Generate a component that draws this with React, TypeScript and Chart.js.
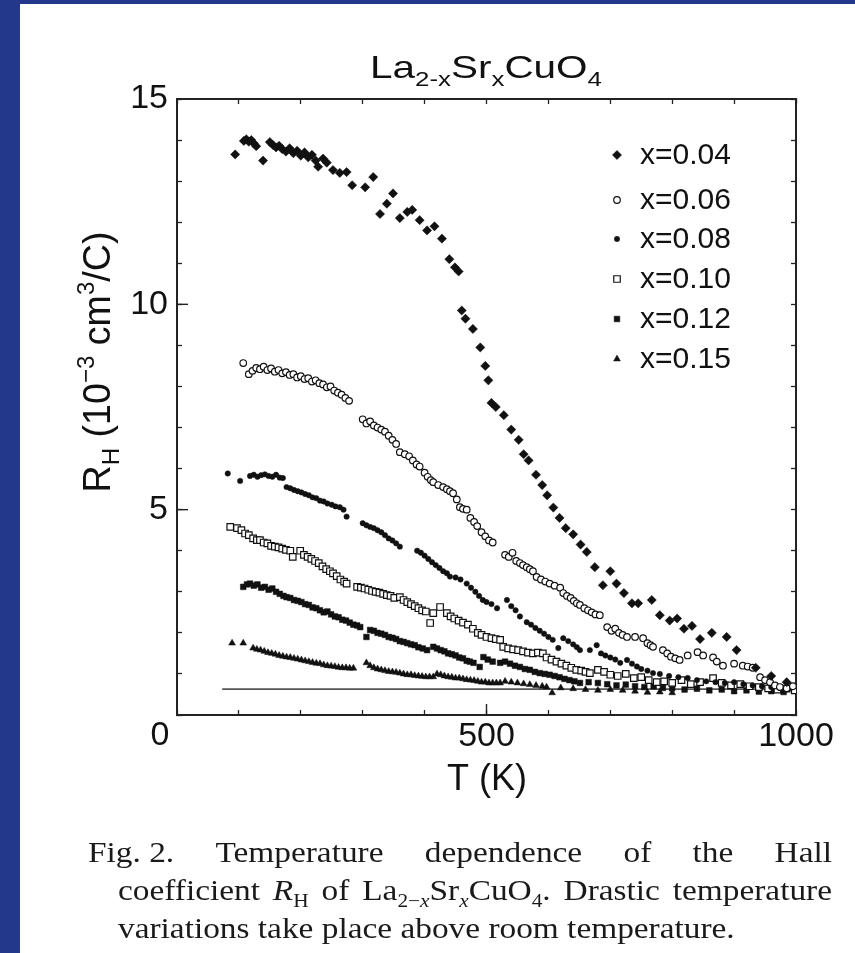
import React, { useEffect, useRef } from 'react';
import { Chart, registerables } from 'chart.js';
Chart.register(...registerables);

type Pt = [number, number];

// ---------------- data ----------------
const seriesLabels = ['x=0.04', 'x=0.06', 'x=0.08', 'x=0.10', 'x=0.12', 'x=0.15'];

const x004: Pt[] = [
  [94, 13.65], [108, 13.98], [112, 14.02], [116, 13.96], [120, 14.0], [124, 13.92], [128, 13.85], [139, 13.5],
  [150, 13.95], [155, 13.88], [160, 13.82], [165, 13.86], [170, 13.78], [176, 13.72], [182, 13.8], [188, 13.68],
  [194, 13.74], [200, 13.62], [206, 13.7], [212, 13.58], [218, 13.64], [224, 13.5], [228, 13.35], [236, 13.55],
  [242, 13.45], [252, 13.27], [263, 13.2], [274, 13.22], [283, 12.9], [304, 12.85], [317, 13.1], [328, 12.2],
  [339, 12.45], [349, 12.7], [360, 12.1], [372, 12.25], [380, 12.3], [392, 12.05], [404, 11.8], [416, 11.9],
  [428, 11.6], [440, 11.1], [449, 10.9], [455, 10.8], [460, 9.85], [466, 9.65], [478, 9.4], [490, 8.95],
  [498, 8.5], [503, 8.15], [508, 7.6], [515, 7.5], [528, 7.3], [540, 6.95], [552, 6.7], [560, 6.35],
  [568, 6.2], [580, 5.85], [590, 5.6], [598, 5.35], [608, 5.05], [618, 4.8], [628, 4.55], [640, 4.4],
  [652, 4.15], [662, 3.97], [675, 3.6], [688, 3.16], [700, 3.5], [710, 3.2], [722, 2.97], [735, 2.72],
  [745, 2.72], [767, 2.8], [780, 2.43], [796, 2.3], [808, 2.35], [819, 2.1], [832, 2.17], [845, 1.85],
  [864, 2.0], [888, 1.9], [904, 1.58], [935, 1.15], [960, 0.95], [985, 0.8],
];

const x006: Pt[] = [
  [107, 8.57], [116, 8.3], [122, 8.38], [128, 8.45], [134, 8.42], [140, 8.48], [146, 8.4], [152, 8.44],
  [158, 8.36], [164, 8.4], [170, 8.32], [176, 8.35], [182, 8.28], [188, 8.3], [194, 8.22], [200, 8.25],
  [206, 8.18], [212, 8.2], [218, 8.12], [224, 8.15], [230, 8.08], [236, 8.05], [242, 7.98], [248, 8.0],
  [254, 7.9], [260, 7.85], [266, 7.8], [272, 7.72], [278, 7.65], [300, 7.2], [306, 7.1], [312, 7.15],
  [318, 7.05], [324, 7.0], [330, 6.95], [336, 6.9], [342, 6.8], [348, 6.7], [354, 6.6], [360, 6.4],
  [368, 6.35], [375, 6.3], [381, 6.2], [387, 6.1], [392, 6.05], [400, 5.9], [405, 5.8], [410, 5.72],
  [414, 5.67], [422, 5.6], [430, 5.55], [436, 5.5], [441, 5.45], [446, 5.4], [452, 5.25], [457, 5.06],
  [462, 5.02], [468, 5.0], [474, 4.8], [480, 4.7], [485, 4.6], [492, 4.45], [498, 4.35], [504, 4.25],
  [510, 4.2], [530, 3.9], [536, 3.85], [542, 3.95], [548, 3.75], [554, 3.7], [559, 3.65], [565, 3.6],
  [570, 3.55], [575, 3.5], [581, 3.36], [588, 3.3], [595, 3.25], [602, 3.2], [610, 3.15], [619, 3.1],
  [624, 2.97], [630, 2.9], [636, 2.85], [641, 2.78], [646, 2.72], [651, 2.68], [658, 2.6], [664, 2.55],
  [670, 2.5], [676, 2.45], [683, 2.43], [695, 2.14], [702, 2.05], [708, 2.1], [714, 2.0], [720, 1.95],
  [727, 1.9], [740, 1.9], [753, 1.87], [760, 1.75], [765, 1.7], [769, 1.66], [785, 1.58], [792, 1.5],
  [798, 1.42], [805, 1.38], [812, 1.34], [825, 1.45], [841, 1.53], [850, 1.45], [866, 1.4], [872, 1.3],
  [882, 1.2], [900, 1.25], [914, 1.2], [922, 1.18], [930, 1.15], [942, 0.92], [950, 0.85], [958, 0.8],
  [966, 0.72], [974, 0.68], [985, 0.65], [995, 0.7],
];

const x008: Pt[] = [
  [82, 5.88], [102, 5.7], [118, 5.82], [124, 5.85], [130, 5.8], [136, 5.84], [142, 5.86], [148, 5.82],
  [154, 5.8], [160, 5.85], [166, 5.78], [171, 5.77], [177, 5.55], [183, 5.52], [189, 5.48], [195, 5.45],
  [201, 5.42], [207, 5.38], [213, 5.35], [219, 5.3], [225, 5.28], [231, 5.22], [237, 5.2], [243, 5.15],
  [250, 5.12], [256, 5.08], [263, 5.06], [269, 5.0], [274, 4.83], [300, 4.67], [306, 4.62], [312, 4.58],
  [318, 4.55], [324, 4.5], [330, 4.45], [336, 4.38], [342, 4.3], [348, 4.25], [354, 4.18], [360, 4.1],
  [388, 4.0], [394, 3.95], [400, 3.88], [406, 3.8], [412, 3.72], [418, 3.65], [424, 3.58], [430, 3.5],
  [436, 3.45], [441, 3.37], [450, 3.35], [458, 3.3], [468, 3.2], [475, 3.1], [482, 3.0], [488, 2.9],
  [494, 2.8], [500, 2.75], [508, 2.7], [517, 2.6], [533, 2.8], [540, 2.65], [547, 2.55], [554, 2.4],
  [565, 2.26], [572, 2.2], [579, 2.12], [586, 2.05], [593, 1.98], [600, 1.9], [607, 1.83], [616, 1.63],
  [624, 1.87], [632, 1.8], [640, 1.72], [646, 1.65], [651, 1.58], [667, 1.58], [678, 1.7], [685, 1.5],
  [692, 1.45], [700, 1.4], [708, 1.35], [716, 1.27], [727, 1.34], [735, 1.25], [743, 1.18], [750, 1.12],
  [760, 1.08], [769, 1.02], [780, 1.0], [795, 0.95], [810, 0.92], [825, 0.9], [840, 0.85], [855, 0.82],
  [870, 0.8], [885, 0.78], [900, 0.8], [915, 0.75], [930, 0.72], [945, 0.7], [960, 0.68], [975, 0.65],
  [990, 0.66],
];

const x010: Pt[] = [
  [86, 4.58], [97, 4.55], [104, 4.5], [110, 4.42], [116, 4.38], [123, 4.3], [129, 4.26], [134, 4.26],
  [140, 4.2], [146, 4.18], [152, 4.12], [158, 4.1], [164, 4.08], [170, 4.05], [176, 4.02], [183, 4.0],
  [187, 3.85], [199, 4.0], [205, 3.9], [211, 3.85], [217, 3.8], [223, 3.75], [229, 3.7], [235, 3.62],
  [241, 3.55], [247, 3.5], [252, 3.45], [258, 3.38], [264, 3.3], [270, 3.25], [274, 3.2], [291, 3.12],
  [297, 3.1], [303, 3.08], [309, 3.05], [315, 3.02], [321, 3.0], [327, 2.98], [333, 2.95], [339, 2.92],
  [345, 2.9], [351, 2.85], [360, 2.87], [366, 2.8], [372, 2.75], [378, 2.7], [384, 2.65], [390, 2.6],
  [396, 2.55], [402, 2.52], [409, 2.24], [414, 2.48], [425, 2.63], [436, 2.48], [442, 2.4], [448, 2.35],
  [455, 2.3], [462, 2.25], [470, 2.2], [478, 2.1], [486, 2.0], [492, 1.95], [500, 1.9], [508, 1.87],
  [515, 1.85], [522, 1.83], [527, 1.66], [535, 1.62], [543, 1.6], [551, 1.58], [559, 1.55], [567, 1.52],
  [575, 1.5], [583, 1.52], [591, 1.5], [597, 1.4], [605, 1.35], [613, 1.3], [621, 1.25], [629, 1.2],
  [637, 1.15], [645, 1.1], [653, 1.08], [660, 1.05], [667, 1.02], [680, 1.1], [690, 1.05], [700, 0.98],
  [712, 0.95], [725, 1.0], [738, 0.9], [750, 0.92], [762, 0.85], [775, 0.8], [787, 0.82], [800, 0.78],
  [815, 0.85], [830, 0.75], [845, 0.8], [866, 0.9], [880, 0.78], [895, 0.72], [910, 0.75], [925, 0.7],
  [940, 0.68], [955, 0.65], [970, 0.62], [985, 0.64], [998, 0.6],
];

const x012: Pt[] = [
  [107, 3.12], [113, 3.18], [118, 3.2], [124, 3.15], [130, 3.18], [136, 3.1], [142, 3.12], [148, 3.05],
  [154, 3.08], [160, 3.0], [166, 2.95], [172, 2.9], [177, 2.87], [183, 2.85], [189, 2.8], [195, 2.78],
  [201, 2.75], [207, 2.7], [213, 2.68], [219, 2.62], [225, 2.6], [231, 2.55], [237, 2.5], [243, 2.52],
  [249, 2.45], [255, 2.4], [261, 2.38], [267, 2.32], [273, 2.3], [279, 2.25], [285, 2.2], [291, 2.18],
  [296, 2.14], [306, 1.9], [312, 2.07], [318, 2.05], [324, 2.0], [330, 1.98], [336, 1.95], [342, 1.9],
  [348, 1.88], [354, 1.85], [360, 1.8], [366, 1.78], [372, 1.75], [378, 1.72], [384, 1.7], [390, 1.65],
  [397, 1.62], [404, 1.58], [414, 1.66], [420, 1.62], [426, 1.58], [432, 1.55], [438, 1.5], [444, 1.48],
  [450, 1.45], [456, 1.4], [462, 1.38], [468, 1.32], [473, 1.3], [479, 1.27], [489, 1.17], [495, 1.41],
  [502, 1.35], [510, 1.3], [522, 1.27], [530, 1.3], [538, 1.25], [546, 1.2], [554, 1.17], [562, 1.12],
  [570, 1.1], [578, 1.05], [586, 1.02], [594, 1.0], [602, 0.98], [610, 0.95], [618, 0.92], [626, 0.88],
  [634, 0.85], [642, 0.82], [651, 0.78], [665, 0.8], [680, 0.78], [695, 0.75], [710, 0.72], [725, 0.74],
  [740, 0.7], [755, 0.68], [770, 0.7], [785, 0.66], [800, 0.65], [820, 0.62], [840, 0.64], [860, 0.6],
  [880, 0.62], [900, 0.58], [920, 0.6], [940, 0.57], [960, 0.58], [980, 0.56],
];

const x015: Pt[] = [
  [89, 1.75], [107, 1.75], [123, 1.63], [129, 1.6], [135, 1.58], [141, 1.55], [147, 1.52], [153, 1.5],
  [159, 1.48], [165, 1.45], [171, 1.43], [177, 1.41], [183, 1.4], [189, 1.38], [195, 1.36], [201, 1.34],
  [207, 1.32], [213, 1.3], [219, 1.28], [225, 1.26], [231, 1.25], [237, 1.22], [243, 1.2], [249, 1.19],
  [255, 1.18], [261, 1.16], [267, 1.15], [273, 1.15], [279, 1.14], [285, 1.14], [306, 1.27], [312, 1.2],
  [318, 1.15], [324, 1.12], [330, 1.1], [336, 1.08], [342, 1.06], [348, 1.05], [354, 1.04], [360, 1.02],
  [366, 1.0], [372, 0.98], [378, 0.98], [384, 0.96], [390, 0.95], [396, 0.94], [402, 0.93], [408, 0.93],
  [414, 0.93], [420, 1.0], [426, 0.98], [432, 0.95], [438, 0.93], [444, 0.92], [450, 0.9], [456, 0.9],
  [462, 0.88], [468, 0.86], [474, 0.85], [480, 0.84], [486, 0.82], [492, 0.8], [498, 0.8], [504, 0.78],
  [510, 0.78], [516, 0.78], [522, 0.78], [530, 0.82], [540, 0.8], [550, 0.78], [560, 0.76], [570, 0.74],
  [580, 0.72], [590, 0.7], [597, 0.68], [606, 0.54], [620, 0.66], [640, 0.64], [660, 0.62], [680, 0.6],
  [700, 0.62], [720, 0.6], [740, 0.58], [760, 0.55], [780, 0.56], [800, 0.54],
];

// horizontal reference line
const refLine: Pt[] = [[73, 0.63], [1000, 0.63]];

const xLabelValues = [500, 1000];
const yLabelValues = [5, 10, 15];
const cornerLabel = '0';
const xMajorTicks = [500];
const yMajorTicks = [5, 10];

// ---------------- styles ----------------
const NAVY = '#23378b';
const INK = '#111111';
const SANS = '"Liberation Sans", Arial, Helvetica, sans-serif';
const SERIF = '"Liberation Serif", "Times New Roman", Times, serif';

type Style = { ps: string; r: number; fill: boolean; bw: number };
const styles: Style[] = [
  { ps: 'rectRot', r: 4.6, fill: true, bw: 0.5 },
  { ps: 'circle', r: 3.3, fill: false, bw: 1.2 },
  { ps: 'circle', r: 2.7, fill: true, bw: 0.5 },
  { ps: 'rect', r: 4.6, fill: false, bw: 1.2 },
  { ps: 'rect', r: 4.0, fill: true, bw: 0.5 },
  { ps: 'triangle', r: 3.9, fill: true, bw: 0.5 },
];
const allSeries: Pt[][] = [x004, x006, x008, x010, x012, x015];

// ---------------- rich text helpers ----------------
type Seg = { t: string; sub?: boolean; sup?: boolean; it?: boolean };

function fontFor(s: Seg, size: number, fam: string) {
  const sz = s.sub || s.sup ? size * 0.64 : size;
  return `${s.it ? 'italic ' : ''}${sz}px ${fam}`;
}
function richWidth(ctx: CanvasRenderingContext2D, segs: Seg[], size: number, fam: string) {
  let w = 0;
  for (const s of segs) {
    ctx.font = fontFor(s, size, fam);
    w += ctx.measureText(s.t).width;
  }
  return w;
}
function richDraw(ctx: CanvasRenderingContext2D, segs: Seg[], x: number, y: number, size: number, fam: string) {
  let cx = x;
  for (const s of segs) {
    ctx.font = fontFor(s, size, fam);
    const dy = s.sub ? size * 0.24 : s.sup ? -size * 0.42 : 0;
    ctx.fillText(s.t, cx, y + dy);
    cx += ctx.measureText(s.t).width;
  }
}
function richAt(ctx: CanvasRenderingContext2D, segs: Seg[], x: number, base: number, size: number, fam: string, sx: number) {
  ctx.save();
  ctx.translate(x, base);
  ctx.scale(sx, 1);
  richDraw(ctx, segs, 0, 0, size, fam);
  ctx.restore();
  return richWidth(ctx, segs, size, fam) * sx;
}
function justifyLine(ctx: CanvasRenderingContext2D, words: Seg[][], x0: number, x1: number, base: number, size: number, fam: string, sx: number) {
  const ws = words.map((w) => richWidth(ctx, w, size, fam) * sx);
  const total = ws.reduce((a, b) => a + b, 0);
  const gap = (x1 - x0 - total) / (words.length - 1);
  let x = x0;
  words.forEach((w, i) => {
    richAt(ctx, w, x, base, size, fam, sx);
    x += ws[i] + gap;
  });
}

function drawMarker(ctx: CanvasRenderingContext2D, st: Style, x: number, y: number) {
  ctx.save();
  ctx.beginPath();
  const r = st.r;
  if (st.ps === 'rectRot') {
    ctx.moveTo(x, y - r); ctx.lineTo(x + r, y); ctx.lineTo(x, y + r); ctx.lineTo(x - r, y); ctx.closePath();
  } else if (st.ps === 'circle') {
    ctx.arc(x, y, r, 0, Math.PI * 2);
  } else if (st.ps === 'rect') {
    const h = r * Math.SQRT1_2;
    ctx.rect(x - h, y - h, 2 * h, 2 * h);
  } else {
    ctx.moveTo(x, y - r);
    ctx.lineTo(x + r * 0.866, y + r * 0.5);
    ctx.lineTo(x - r * 0.866, y + r * 0.5);
    ctx.closePath();
  }
  ctx.fillStyle = st.fill ? INK : '#ffffff';
  ctx.fill();
  ctx.lineWidth = st.bw;
  ctx.strokeStyle = INK;
  ctx.stroke();
  ctx.restore();
}

const titleSegs: Seg[] = [
  { t: 'La' }, { t: '2-x', sub: true }, { t: 'Sr' }, { t: 'x', sub: true }, { t: 'CuO' }, { t: '4', sub: true },
];
const yTitleSegs: Seg[] = [
  { t: 'R' }, { t: 'H', sub: true }, { t: ' (10' }, { t: '\u22123', sup: true }, { t: ' cm' }, { t: '3', sup: true }, { t: '/C)' },
];
const xTitleSegs: Seg[] = [{ t: 'T (K)' }];

const cap1: Seg[][] = ['Fig. 2.', 'Temperature', 'dependence', 'of', 'the', 'Hall'].map((t) => [{ t }]);
const cap2: Seg[][] = [
  [{ t: 'coefficient' }],
  [{ t: 'R', it: true }, { t: 'H', sub: true }],
  [{ t: 'of' }],
  [{ t: 'La' }, { t: '2\u2212', sub: true }, { t: 'x', sub: true, it: true }, { t: 'Sr' }, { t: 'x', sub: true, it: true }, { t: 'CuO' }, { t: '4', sub: true }, { t: '.' }],
  [{ t: 'Drastic' }],
  [{ t: 'temperature' }],
];
const cap3: Seg[] = [{ t: 'variations take place above room temperature.' }];

const decorPlugin = {
  id: 'decor',
  afterDraw(chart: any) {
    const ctx: CanvasRenderingContext2D = chart.ctx;
    const xs = chart.scales.x;
    const ys = chart.scales.y;
    const area = chart.chartArea;
    ctx.save();
    ctx.fillStyle = INK;
    ctx.strokeStyle = '#222';
    ctx.textAlign = 'left';
    ctx.textBaseline = 'alphabetic';

    // longer major ticks
    ctx.lineWidth = 1.4;
    for (const v of xMajorTicks) {
      const px = xs.getPixelForValue(v);
      ctx.beginPath(); ctx.moveTo(px, area.bottom); ctx.lineTo(px, area.bottom - 11); ctx.stroke();
    }
    for (const v of yMajorTicks) {
      const py = ys.getPixelForValue(v);
      ctx.beginPath(); ctx.moveTo(area.left, py); ctx.lineTo(area.left + 11, py); ctx.stroke();
    }

    // corner zero
    ctx.font = `34px ${SANS}`;
    ctx.textAlign = 'center';
    ctx.textBaseline = 'middle';
    ctx.fillText(cornerLabel, xs.getPixelForValue(0) - 17, area.bottom + 21);
    ctx.textAlign = 'left';
    ctx.textBaseline = 'alphabetic';

    // title
    {
      const w = richWidth(ctx, titleSegs, 32, SANS);
      const sx = 232 / w;
      richAt(ctx, titleSegs, 486 - 116, 78, 32, SANS, sx);
    }
    // x title
    {
      const w = richWidth(ctx, xTitleSegs, 37, SANS);
      const sx = 80 / w;
      richAt(ctx, xTitleSegs, 487 - 40, 790, 37, SANS, sx);
    }
    // y title
    {
      const w = richWidth(ctx, yTitleSegs, 38, SANS);
      const sx = 261 / w;
      ctx.save();
      ctx.translate(110, 362);
      ctx.rotate(-Math.PI / 2);
      ctx.scale(sx, 1);
      richDraw(ctx, yTitleSegs, -w / 2, 0, 38, SANS);
      ctx.restore();
    }

    // legend
    const rows = [155, 200, 239, 279, 319, 359];
    ctx.font = `30px ${SANS}`;
    ctx.textBaseline = 'middle';
    seriesLabels.forEach((lab, i) => {
      drawMarker(ctx, styles[i], 617, rows[i]);
      ctx.fillStyle = INK;
      ctx.font = `30px ${SANS}`;
      ctx.fillText(lab, 640, rows[i] + 1);
    });
    ctx.textBaseline = 'alphabetic';

    // caption
    ctx.fillStyle = '#1a1a1a';
    justifyLine(ctx, cap1, 88, 832, 862, 29, SERIF, 1.15);
    justifyLine(ctx, cap2, 118, 832, 900, 29, SERIF, 1.15);
    richAt(ctx, cap3, 118, 938, 29, SERIF, 1.15);

    ctx.restore();
  },
};

export default function App() {
  const ref = useRef<HTMLCanvasElement>(null);
  useEffect(() => {
    const canvas = ref.current;
    if (!canvas) return;
    const datasets: any[] = allSeries.map((pts, i) => ({
      label: seriesLabels[i],
      data: pts.map(([x, y]) => ({ x, y })),
      showLine: false,
      pointStyle: styles[i].ps,
      pointRadius: styles[i].r,
      pointBackgroundColor: styles[i].fill ? INK : '#ffffff',
      pointBorderColor: INK,
      pointBorderWidth: styles[i].bw,
    }));
    datasets.push({
      type: 'line',
      label: 'ref',
      data: refLine.map(([x, y]) => ({ x, y })),
      borderColor: '#555555',
      borderWidth: 1.6,
      pointRadius: 0,
      showLine: true,
      fill: false,
    });
    const tickFont = { family: SANS, size: 34 };
    const gridTicks = { drawOnChartArea: false, drawTicks: true, tickLength: -5, tickColor: '#222', tickWidth: 1.3 };
    const border = { display: true, color: '#222', width: 2 };
    const chart = new Chart(canvas, {
      type: 'scatter',
      data: { datasets },
      plugins: [decorPlugin],
      options: {
        animation: false,
        responsive: false,
        devicePixelRatio: 1,
        layout: { padding: { left: 0, top: 99, right: 59, bottom: 138 } },
        plugins: { legend: { display: false }, tooltip: { enabled: false } },
        scales: {
          x: {
            type: 'linear', position: 'bottom', min: 0, max: 1000,
            ticks: {
              stepSize: 100, autoSkip: false, maxRotation: 0, padding: 6, color: INK, font: tickFont,
              callback: (v: any) => (xLabelValues.includes(Number(v)) ? String(v) : ''),
            },
            grid: gridTicks, border,
            afterFit: (s: any) => { s.height = 100; },
          },
          x2: {
            type: 'linear', position: 'top', min: 0, max: 1000,
            ticks: { stepSize: 100, autoSkip: false, maxRotation: 0, callback: () => '' },
            grid: gridTicks, border,
            afterFit: (s: any) => { s.height = 0; },
          },
          y: {
            type: 'linear', position: 'left', min: 0, max: 15,
            ticks: {
              stepSize: 1, autoSkip: false, padding: 14, color: INK, font: tickFont,
              callback: (v: any) => (yLabelValues.includes(Number(v)) ? String(v) : ''),
            },
            grid: gridTicks, border,
            afterFit: (s: any) => { s.width = 177; },
          },
          y2: {
            type: 'linear', position: 'right', min: 0, max: 15,
            ticks: { stepSize: 1, autoSkip: false, callback: () => '' },
            grid: gridTicks, border,
            afterFit: (s: any) => { s.width = 0; },
          },
        },
      } as any,
    });
    return () => chart.destroy();
  }, []);
  return (
    <div style={{ position: 'fixed', left: 0, top: 0, width: 855, height: 953, background: NAVY, overflow: 'hidden' }}>
      <div style={{ position: 'absolute', left: 20, top: 4, right: 0, bottom: 0, background: '#ffffff' }} />
      <canvas ref={ref} width={855} height={953} style={{ position: 'absolute', left: 0, top: 0, width: 855, height: 953 }} />
    </div>
  );
}
